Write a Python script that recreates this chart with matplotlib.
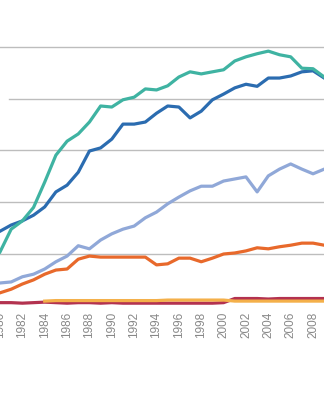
import matplotlib.pyplot as plt

plt.rcParams['font.family'] = ['Liberation Sans', 'DejaVu Sans']

# Years shown on the (cropped) x axis
years = list(range(1980, 2010))

# Series values (gridline step = 100)
teal = [104, 148, 164, 190, 239, 291, 318, 332, 355, 386,
        384, 398, 403, 419, 417, 425, 442, 452, 448, 452,
        456, 473, 481, 487, 492, 485, 481, 459, 458, 442]
dark_blue = [144, 156, 164, 175, 191, 220, 233, 258, 299, 305,
             322, 351, 351, 355, 372, 386, 384, 363, 376, 398,
             409, 421, 428, 424, 440, 440, 444, 452, 454, 440]
light_blue = [44, 46, 56, 61, 71, 85, 96, 116, 110, 127,
              139, 148, 154, 170, 181, 197, 210, 222, 231, 231,
              241, 245, 249, 220, 251, 264, 274, 264, 255, 264]
orange = [25, 32, 42, 50, 61, 69, 71, 90, 96, 94,
          94, 94, 94, 94, 79, 81, 92, 92, 85, 92,
          100, 102, 106, 112, 110, 114, 117, 121, 121, 117]
maroon = [6, 6, 5, 6, 7, 6, 5, 6, 6, 5,
          6, 5, 5, 5, 5, 5, 5, 5, 5, 5,
          6, 14, 14, 14, 13, 14, 14, 14, 14, 14]
# light orange series starts in 1984
yellow_years = years[4:]
yellow = [9, 10, 10, 10, 10, 10, 10, 10, 10, 10,
          10, 11, 11, 11, 11, 11, 11, 9, 9, 9,
          9, 9, 9, 9, 9, 9]

grid_levels = [100, 200, 300, 400, 500]
tick_years = list(range(1980, 2010, 2))

fig = plt.figure(figsize=(3.24, 4.0), dpi=100)
ax = fig.add_axes([0, 0.2356, 1, 0.7644])

# horizontal gridlines
for lvl in grid_levels:
    start = 0.028 if lvl == 400 else 0
    ax.axhline(lvl, xmin=start, color='#bdbdbd', linewidth=1.0, zorder=0)

lw = 2.3
ax.plot(years, maroon, color='#b3324f', linewidth=lw, zorder=2)
ax.plot(yellow_years, yellow, color='#f4b04a', linewidth=lw, zorder=3)
ax.plot(years, orange, color='#e8692b', linewidth=lw, zorder=4)
ax.plot(years, light_blue, color='#90a8d8', linewidth=lw, zorder=5)
ax.plot(years, dark_blue, color='#2b6cb0', linewidth=lw, zorder=6)
ax.plot(years, teal, color='#3fb3a2', linewidth=lw, zorder=7)

ax.set_xlim(1980.13, 2008.98)
ax.set_ylim(0, 590.8)

ax.set_xticks(tick_years)
ax.set_xticklabels([str(y) for y in tick_years], rotation=90,
                   fontsize=8.5, color='#888888')
ax.set_yticks([])
ax.tick_params(axis='x', length=0, pad=4.5)

for side in ['top', 'right', 'left', 'bottom']:
    ax.spines[side].set_visible(False)

fig.savefig('out.png', dpi=100)
